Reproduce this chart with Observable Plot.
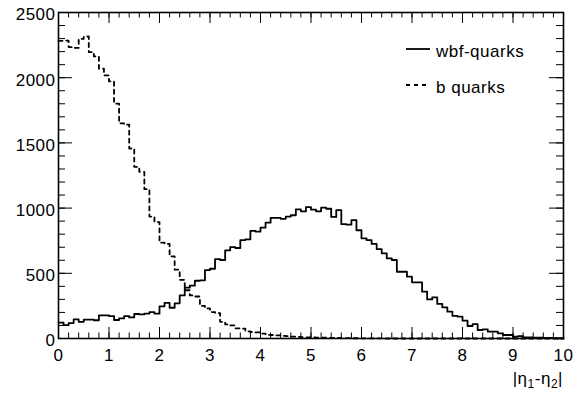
<!DOCTYPE html>
<html>
<head>
<meta charset="utf-8">
<script src="https://cdn.jsdelivr.net/npm/d3@7"></script>
<script src="https://cdn.jsdelivr.net/npm/@observablehq/plot@0.6"></script>
<style>
html, body { margin: 0; padding: 0; background: #fff; }
#chart { width: 581px; height: 394px; }
</style>
</head>
<body>
<div id="chart"></div>
<script>
// ---- data (100 bins of width 0.1 over |eta1-eta2| in [0,10]) ----
const binWidth = 0.1;
const seriesNames = ["wbf-quarks", "b quarks"];
const wbfQuarks = [
  122, 102, 118, 147, 128, 145, 145, 140, 178, 178,
  172, 142, 155, 172, 162, 188, 185, 190, 202, 190,
  247, 273, 236, 270, 330, 390, 405, 443, 446, 525,
  535, 608, 602, 676, 700, 694, 755, 760, 826, 820,
  850, 888, 925, 925, 918, 935, 945, 990, 975, 1008,
  988, 975, 1003, 995, 932, 985, 877, 873, 908, 830,
  768, 755, 725, 686, 653, 615, 602, 512, 512, 474,
  431, 431, 359, 300, 316, 265, 239, 206, 173, 168,
  137, 96, 111, 65, 70, 52, 52, 40, 27, 27,
  14, 18, 9, 9, 6, 6, 4, 4, 2, 2
];
const bQuarks = [
  2283, 2285, 2235, 2228, 2298, 2316, 2196, 2163, 2069, 2018,
  1972, 1801, 1650, 1640, 1457, 1316, 1278, 1145, 935, 893,
  735, 725, 630, 528, 450, 370, 330, 322, 250, 231,
  203, 195, 128, 108, 100, 78, 75, 55, 50, 47,
  38, 28, 27, 24, 20, 18, 14, 12, 10, 9,
  8, 7, 6, 5, 5, 4, 3, 3, 2, 2,
  1, 1, 1, 1, 0, 0, 0, 0, 0, 0,
  0, 0, 0, 0, 0, 0, 0, 0, 0, 0,
  0, 0, 0, 0, 0, 0, 0, 0, 0, 0,
  0, 0, 0, 0, 0, 0, 0, 0, 0, 0
];
const xMajorTicks = [0, 1, 2, 3, 4, 5, 6, 7, 8, 9, 10];
const xTickLabels = ["0", "1", "2", "3", "4", "5", "6", "7", "8", "9", "10"];
const yMajorTicks = [0, 500, 1000, 1500, 2000, 2500];
const yTickLabels = ["0", "500", "1000", "1500", "2000", "2500"];
const xMinorStep = 0.2;
const yMinorStep = 100;

// ---- layout ----
const W = 581, H = 394;
const mL = 58, mR = 18, mT = 12, mB = 56;
const FW = W - mL - mR, FH = H - mT - mB;
const font = "'Liberation Sans', Arial, Helvetica, sans-serif";

const xMinorTicks = d3.range(0, Math.round(10 / xMinorStep) + 1).map(i => +(i * xMinorStep).toFixed(2));
const yMinorTicks = d3.range(0, Math.round(2500 / yMinorStep) + 1).map(i => i * yMinorStep);

function steps(values) {
  const pts = values.map((v, i) => ({x: i * binWidth, y: v}));
  pts.push({x: values.length * binWidth, y: values[values.length - 1]});
  return pts;
}

const chart = Plot.plot({
  width: W, height: H,
  marginLeft: mL, marginRight: mR, marginTop: mT, marginBottom: mB,
  style: {fontFamily: font, fontSize: "17px", letterSpacing: "0.5px", color: "black", background: "white", overflow: "visible"},
  x: {domain: [0, 10], axis: null},
  y: {domain: [0, 2500], axis: null},
  marks: [
    Plot.line(steps(wbfQuarks), {x: "x", y: "y", curve: "step-after", stroke: "black", strokeWidth: 1.8}),
    Plot.line(steps(bQuarks), {x: "x", y: "y", curve: "step-after", stroke: "black", strokeWidth: 1.8, strokeDasharray: "4,4"}),
    // ticks: bottom / top
    Plot.tickX(xMajorTicks, {x: d => d, insetTop: FH - 11, stroke: "black", strokeWidth: 1}),
    Plot.tickX(xMinorTicks, {x: d => d, insetTop: FH - 5.5, stroke: "black", strokeWidth: 1}),
    Plot.tickX(xMajorTicks, {x: d => d, insetBottom: FH - 11, stroke: "black", strokeWidth: 1}),
    Plot.tickX(xMinorTicks, {x: d => d, insetBottom: FH - 5.5, stroke: "black", strokeWidth: 1}),
    // ticks: left / right
    Plot.tickY(yMajorTicks, {y: d => d, insetRight: FW - 14, stroke: "black", strokeWidth: 1}),
    Plot.tickY(yMinorTicks, {y: d => d, insetRight: FW - 7, stroke: "black", strokeWidth: 1}),
    Plot.tickY(yMajorTicks, {y: d => d, insetLeft: FW - 14, stroke: "black", strokeWidth: 1}),
    Plot.tickY(yMinorTicks, {y: d => d, insetLeft: FW - 7, stroke: "black", strokeWidth: 1}),
    // tick labels
    Plot.text(xMajorTicks, {x: d => d, text: (d, i) => xTickLabels[i], frameAnchor: "bottom", lineAnchor: "top", dy: 10, fill: "black"}),
    Plot.text(yMajorTicks, {y: d => d, text: (d, i) => yTickLabels[i], frameAnchor: "left", textAnchor: "end", lineAnchor: "middle", dx: -3, dy: 2.5, fill: "black"}),
    Plot.frame({stroke: "black", strokeWidth: 1.6})
  ]
});

document.getElementById("chart").appendChild(chart);

// axis title with subscripts and the legend, added as real SVG text
const svg = d3.select(chart);
const title = svg.append("text")
  .attr("x", mL + FW).attr("y", 384)
  .attr("text-anchor", "end")
  .attr("font-family", font).attr("font-size", 17).attr("letter-spacing", "0.5px")
  .attr("fill", "black");
title.append("tspan").text("|η");
title.append("tspan").attr("font-size", 12).attr("dy", 4).text("1");
title.append("tspan").attr("dy", -4).text("-η");
title.append("tspan").attr("font-size", 12).attr("dy", 4).text("2");
title.append("tspan").attr("dy", -4).text("|");

const legend = svg.append("g")
  .attr("font-family", font).attr("font-size", 17).attr("letter-spacing", "0.5px")
  .attr("text-anchor", "start");
const legendRows = [
  {name: seriesNames[0], dash: null, y: 49},
  {name: seriesNames[1], dash: "4,4", y: 85}
];
legendRows.forEach(r => {
  legend.append("line")
    .attr("x1", 406).attr("x2", 430).attr("y1", r.y).attr("y2", r.y)
    .attr("stroke", "black").attr("stroke-width", 1.8)
    .attr("stroke-dasharray", r.dash);
  legend.append("text")
    .attr("x", 436).attr("y", r.y + 7.5)
    .attr("text-anchor", "start")
    .attr("fill", "black")
    .text(r.name);
});
</script>
</body>
</html>
